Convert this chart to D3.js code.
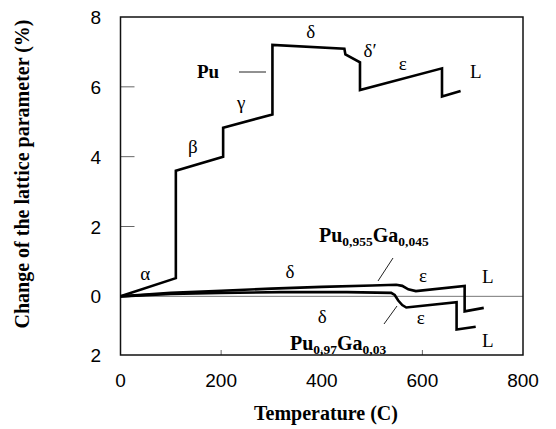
<!DOCTYPE html>
<html>
<head>
<meta charset="utf-8">
<script src="https://d3js.org/d3.v7.min.js"></script>
<style>
  body { margin: 0; background: #fff; }
  .serif { font-family: "Liberation Serif", "Times New Roman", serif; }
  .sans { font-family: "Liberation Sans", Arial, sans-serif; }
</style>
</head>
<body>
<svg id="chart" width="556" height="429"></svg>
<script>
// Pure Pu curve (temperature C, change %)
var puTemp = [0, 110, 110, 204, 204, 302, 302, 445, 447, 476, 476, 639, 639, 676];
var puVal  = [0, 0.52, 3.6, 4.0, 4.83, 5.21, 7.2, 7.09, 6.93, 6.70, 5.91, 6.53, 5.72, 5.88];

// Pu0,955Ga0,045
var ga45Temp = [0, 100, 200, 300, 400, 500, 548, 560, 572, 587, 684, 684, 722];
var ga45Val  = [0, 0.1, 0.16, 0.22, 0.27, 0.31, 0.33, 0.3, 0.2, 0.15, 0.3, -0.43, -0.33];

// Pu0,97Ga0,03
var ga3Temp = [0, 100, 200, 317, 450, 538, 545, 552, 560, 568, 668, 668, 706];
var ga3Val  = [0, 0.07, 0.1, 0.12, 0.12, 0.1, 0.04, -0.12, -0.25, -0.32, -0.17, -0.95, -0.87];

// Axis ticks (bottom label of the original reads "2")
var xTicks = [0, 200, 400, 600, 800];
var yTicks = [-1.68, 0, 2, 4, 6, 8];
var yTickLabels = ["2", "0", "2", "4", "6", "8"];

// Phase labels: [temp, value, text]
var phaseLabels = [
  [49, 0.47, "α"], [144, 4.1, "β"], [240, 5.37, "γ"], [378, 7.4, "δ"],
  [496, 6.86, "δ′"], [561, 6.48, "ε"], [706, 6.25, "L"],
  [337, 0.52, "δ"], [601, 0.41, "ε"], [730, 0.38, "L"],
  [401, -0.76, "δ"], [597, -0.79, "ε"], [730, -1.45, "L"]
];

window.onload = function() {

  var svg = d3.select("#chart"),
      left = 120.5, right = 523, top = 17, bottom = 355;

  var x = d3.scaleLinear().domain([0, 800]).range([left, right]);
  var y = d3.scaleLinear().domain([-1.68, 8]).range([bottom, top]);

  // zero line
  svg.append("line")
    .attr("x1", x(0)).attr("x2", x(800))
    .attr("y1", y(0)).attr("y2", y(0))
    .attr("stroke", "#777").attr("stroke-width", 1);

  // inner ticks
  svg.selectAll(".ytick").data([2, 4, 6]).enter().append("line")
    .attr("x1", left).attr("x2", left + 14)
    .attr("y1", d => y(d)).attr("y2", d => y(d))
    .attr("stroke", "#666").attr("stroke-width", 1);
  svg.selectAll(".xtick").data([200, 400, 600]).enter().append("line")
    .attr("x1", d => x(d)).attr("x2", d => x(d))
    .attr("y1", bottom).attr("y2", bottom - 5)
    .attr("stroke", "#666").attr("stroke-width", 1);

  // frame
  svg.append("rect")
    .attr("x", left).attr("y", top)
    .attr("width", right - left).attr("height", bottom - top)
    .attr("fill", "none").attr("stroke", "#111").attr("stroke-width", 1.5);

  // tick labels
  svg.selectAll(".xl").data(xTicks).enter().append("text")
    .attr("class", "sans")
    .attr("x", d => x(d)).attr("y", 387)
    .attr("text-anchor", "middle").attr("font-size", 19)
    .text(d => d);
  svg.selectAll(".yl").data(yTicks).enter().append("text")
    .attr("class", "sans")
    .attr("x", 101).attr("y", d => y(d) + 7)
    .attr("text-anchor", "end").attr("font-size", 19)
    .text((d, i) => yTickLabels[i]);

  // axis titles
  svg.append("text").attr("class", "serif")
    .attr("x", 326).attr("y", 420)
    .attr("text-anchor", "middle").attr("font-size", 20).attr("font-weight", "bold")
    .text("Temperature (C)");
  svg.append("text").attr("class", "serif")
    .attr("transform", "translate(29,174) rotate(-90)")
    .attr("text-anchor", "middle").attr("font-size", 20).attr("font-weight", "bold")
    .text("Change of the lattice parameter (%)");

  // curves
  var line = d3.line().x(d => x(d[0])).y(d => y(d[1]));
  [[puTemp, puVal], [ga45Temp, ga45Val], [ga3Temp, ga3Val]].forEach(function(s) {
    svg.append("path")
      .datum(d3.zip(s[0], s[1]))
      .attr("d", line)
      .attr("fill", "none").attr("stroke", "#000")
      .attr("stroke-width", 2.6).attr("stroke-linejoin", "miter");
  });

  // phase labels
  svg.selectAll(".ph").data(phaseLabels).enter().append("text")
    .attr("class", "serif")
    .attr("x", d => x(d[0])).attr("y", d => y(d[1]))
    .attr("text-anchor", "middle").attr("font-size", 19)
    .text(d => d[2]);

  // Pu label and its leader
  svg.append("text").attr("class", "serif")
    .attr("x", 197).attr("y", 78)
    .attr("font-size", 19).attr("font-weight", "bold").text("Pu");
  svg.append("line")
    .attr("x1", 239).attr("x2", 266).attr("y1", 72).attr("y2", 72)
    .attr("stroke", "#222").attr("stroke-width", 1);

  // alloy labels with subscripts
  function alloy(xp, yp, parts) {
    var t = svg.append("text").attr("class", "serif")
      .attr("x", xp).attr("y", yp).attr("font-weight", "bold");
    parts.forEach(function(p, i) {
      t.append("tspan")
        .attr("font-size", i % 2 ? 13.5 : 20)
        .attr("dy", i === 0 ? 0 : (i % 2 ? 4 : -4))
        .text(p);
    });
  }
  alloy(319, 242, ["Pu", "0,955", "Ga", "0,045"]);
  alloy(290, 350, ["Pu", "0,97", "Ga", "0,03"]);

  // leader lines to the alloy curves
  svg.append("line").attr("x1", 393).attr("y1", 258).attr("x2", 378).attr("y2", 281)
    .attr("stroke", "#222").attr("stroke-width", 1);
  svg.append("line").attr("x1", 397).attr("y1", 306).attr("x2", 384).attr("y2", 324)
    .attr("stroke", "#222").attr("stroke-width", 1);
};
</script>
</body>
</html>
